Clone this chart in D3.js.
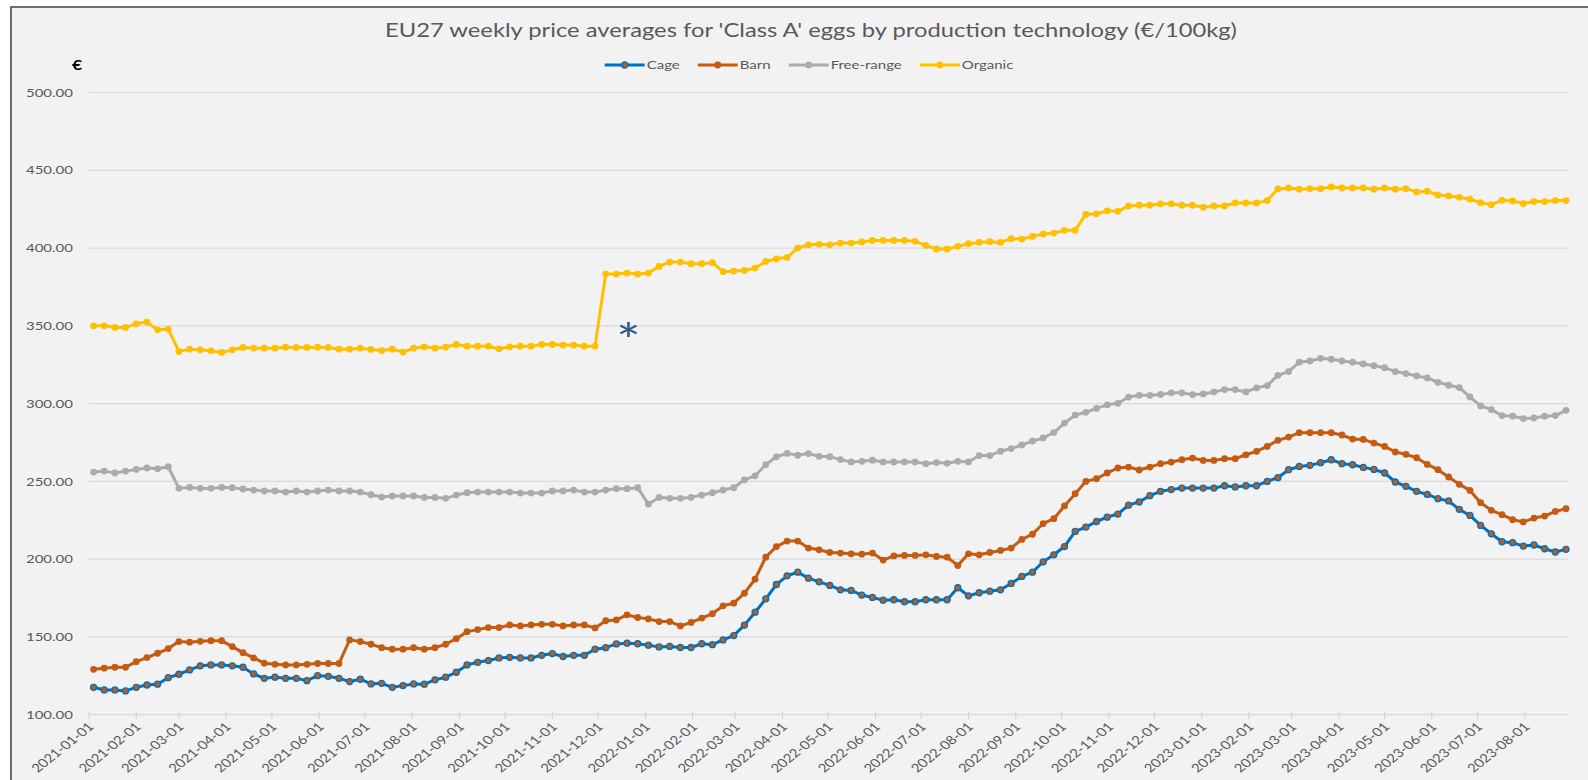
<!DOCTYPE html>
<html>
<head>
<meta charset="utf-8">
<script src="https://d3js.org/d3.v7.min.js"></script>
<style>
  html, body { margin: 0; background: #fff; overflow: hidden; }
  svg { display: block; }
  text { font-family: Lato, "Open Sans", sans-serif; }
</style>
</head>
<body>
<div id="chart"></div>
<script>
// ---- Data ----
const firstWeek = "2021-01-04";
const lastWeek = "2023-08-28";

const seriesNames = ["Cage", "Barn", "Free-range", "Organic"];

const cage = [
  117.6, 115.9, 115.9, 115.3, 117.6, 119.1, 119.6, 123.8, 126.0, 128.8,
  131.4, 132.0, 132.0, 131.4, 130.5, 126.2, 123.4, 124.1, 123.4, 123.4,
  121.9, 125.1, 124.7, 123.4, 121.3, 122.8, 119.8, 120.2, 117.6, 118.7,
  119.8, 119.6, 122.4, 124.1, 127.3, 132.0, 133.7, 134.8, 136.5, 136.9,
  136.5, 136.5, 138.2, 139.3, 137.4, 138.2, 138.2, 142.1, 143.1, 145.5,
  146.0, 145.6, 144.7, 143.6, 143.9, 143.2, 143.2, 145.6, 145.0, 148.1,
  150.9, 157.6, 165.9, 174.5, 183.7, 189.3, 191.6, 187.8, 185.4, 183.1,
  180.3, 179.9, 176.9, 175.4, 173.6, 173.9, 172.6, 172.6, 173.9, 173.9,
  173.9, 181.6, 176.4, 178.4, 179.4, 180.3, 184.4, 188.9, 191.6, 198.3,
  202.8, 208.1, 217.8, 220.6, 224.2, 227.0, 229.0, 234.7, 236.8, 240.8,
  243.6, 244.7, 245.7, 245.7, 245.7, 245.7, 247.2, 246.4, 247.2, 247.2,
  250.0, 252.4, 257.5, 259.6, 260.3, 262.0, 263.9, 261.4, 260.7, 259.0,
  257.7, 255.4, 249.6, 246.8, 243.6, 241.6, 238.9, 237.4, 232.0, 228.1,
  221.7, 216.3, 211.2, 210.6, 208.4, 209.1, 206.7, 204.6, 206.3
];

const barn = [
  129.2, 129.9, 130.5, 130.5, 134.1, 136.7, 139.5, 142.5, 147.0, 146.6,
  147.2, 147.6, 147.6, 143.8, 139.9, 136.5, 133.1, 132.4, 132.0, 132.0,
  132.4, 132.9, 132.9, 132.9, 148.1, 147.0, 145.3, 143.1, 142.1, 142.1,
  143.1, 142.1, 143.1, 145.3, 148.9, 153.4, 154.7, 156.0, 156.0, 157.7,
  157.1, 157.7, 158.1, 158.1, 157.1, 157.7, 157.7, 155.8, 160.4, 160.9,
  164.2, 162.5, 161.6, 159.9, 159.9, 157.1, 159.3, 162.1, 164.9, 170.0,
  171.7, 178.1, 187.1, 201.3, 208.1, 211.6, 211.6, 207.1, 206.0, 204.3,
  203.9, 203.4, 203.2, 203.9, 199.4, 202.1, 202.4, 202.4, 202.8, 201.7,
  201.3, 195.9, 203.4, 202.8, 204.3, 205.6, 207.1, 212.7, 216.0, 222.9,
  226.0, 234.2, 242.1, 250.0, 251.7, 255.4, 258.6, 259.2, 257.3, 259.2,
  261.4, 262.4, 263.9, 265.0, 263.5, 263.5, 264.6, 264.6, 267.1, 269.3,
  272.5, 276.4, 278.5, 281.3, 281.3, 281.3, 281.3, 279.8, 277.2, 277.0,
  274.6, 272.5, 268.9, 267.4, 265.2, 260.9, 257.5, 252.8, 248.1, 244.2,
  236.3, 231.4, 228.6, 225.4, 223.9, 226.4, 227.7, 230.7, 232.4
];

const freeRange = [
  256.0, 256.6, 255.4, 256.6, 257.7, 258.6, 258.1, 259.4, 245.5, 246.1,
  245.5, 245.5, 246.1, 245.9, 245.1, 244.4, 243.8, 243.8, 243.1, 243.8,
  243.1, 243.8, 244.4, 243.8, 243.8, 243.1, 241.4, 239.9, 240.6, 240.6,
  240.6, 239.7, 239.7, 239.1, 241.2, 242.7, 243.1, 243.1, 243.1, 243.1,
  242.5, 242.5, 242.5, 243.8, 243.8, 244.4, 243.1, 243.1, 244.4, 245.3,
  245.3, 245.9, 235.4, 239.7, 239.1, 239.1, 239.7, 241.2, 242.7, 244.4,
  245.9, 251.0, 253.6, 260.7, 265.8, 268.0, 266.8, 267.9, 266.1, 265.9,
  264.0, 262.5, 262.9, 263.6, 262.5, 262.5, 262.5, 262.5, 261.4, 262.1,
  261.6, 262.9, 262.5, 266.6, 266.6, 269.4, 271.1, 273.4, 275.9, 277.9,
  281.4, 287.5, 292.6, 294.4, 296.9, 299.2, 300.2, 304.2, 305.3, 305.3,
  305.9, 306.9, 306.9, 305.8, 306.2, 307.5, 309.0, 309.0, 307.5, 310.1,
  311.6, 318.2, 320.6, 326.6, 327.4, 329.1, 328.5, 327.4, 326.6, 325.5,
  324.4, 323.1, 320.6, 319.3, 317.8, 316.5, 313.7, 311.8, 310.3, 304.3,
  298.5, 296.1, 292.3, 291.9, 290.4, 290.8, 291.9, 292.3, 295.7
];

const organic = [
  350.0, 350.0, 349.0, 349.0, 351.3, 352.4, 347.4, 347.9, 333.5, 335.0,
  334.6, 333.9, 332.9, 334.6, 336.1, 335.6, 335.6, 335.6, 336.3, 336.1,
  336.1, 336.3, 336.1, 335.0, 335.0, 335.6, 334.8, 334.1, 335.0, 333.1,
  335.6, 336.5, 335.6, 336.3, 338.0, 336.9, 336.9, 336.9, 335.2, 336.5,
  336.9, 336.9, 338.0, 338.0, 337.6, 337.6, 336.9, 336.9, 383.3, 383.3,
  383.9, 383.3, 383.9, 388.2, 391.0, 391.0, 389.9, 389.9, 390.6, 384.8,
  385.2, 385.6, 387.1, 391.4, 393.1, 394.0, 400.0, 402.1, 402.4, 402.1,
  403.2, 403.2, 403.9, 404.9, 404.9, 404.9, 404.9, 404.3, 401.7, 399.4,
  399.4, 401.1, 402.8, 403.6, 404.1, 403.6, 406.0, 405.8, 407.5, 409.0,
  409.6, 411.4, 411.4, 421.6, 422.0, 423.9, 423.6, 427.1, 427.5, 427.5,
  428.4, 428.4, 427.5, 427.5, 426.2, 427.1, 427.1, 429.0, 429.0, 429.0,
  430.5, 438.0, 438.6, 437.8, 438.2, 438.2, 439.3, 438.6, 438.6, 438.6,
  437.8, 438.6, 437.8, 438.2, 436.1, 436.5, 434.1, 433.5, 432.6, 431.4,
  429.2, 427.9, 430.7, 430.3, 428.6, 429.9, 429.9, 430.5, 430.5
];

const yTicks = [100, 150, 200, 250, 300, 350, 400, 450, 500];

const xTickLabels = [
  "2021-01-01", "2021-02-01", "2021-03-01", "2021-04-01", "2021-05-01", "2021-06-01",
  "2021-07-01", "2021-08-01", "2021-09-01", "2021-10-01", "2021-11-01", "2021-12-01",
  "2022-01-01", "2022-02-01", "2022-03-01", "2022-04-01", "2022-05-01", "2022-06-01",
  "2022-07-01", "2022-08-01", "2022-09-01", "2022-10-01", "2022-11-01", "2022-12-01",
  "2023-01-01", "2023-02-01", "2023-03-01", "2023-04-01", "2023-05-01", "2023-06-01",
  "2023-07-01", "2023-08-01"
];

const titleText = "EU27 weekly price averages for 'Class A' eggs by production technology (€/100kg)";
const noteText = "*";
const noteDate = "2021-12-21";
const noteValue = 350;

// ---- Style ----
const width = 1588;
const height = 780;
const stretch = 1.25;          // text in the reference is a little wide
const textGray = "#595959";
const gridColor = "#d9d9d9";
const lineColors = ["#0070c0", "#c55a11", "#aeaaaa", "#ffc000"];
const markerFills = ["#c55a11", "#c55a11", "#aeaaaa", "#ffc000"];

const svg = d3.select("#chart")
  .append("svg")
    .attr("width", width)
    .attr("height", height);

// chart area background + border (right and bottom edges fall outside the frame)
svg.append("rect")
  .attr("x", 11)
  .attr("y", 7)
  .attr("width", 1620)
  .attr("height", 820)
  .attr("fill", "#f2f2f2")
  .attr("stroke", "#404040")
  .attr("stroke-width", 1.5);

const parse = d3.utcParse("%Y-%m-%d");
const weeks = d3.utcMonday.range(parse(firstWeek), d3.utcDay.offset(parse(lastWeek), 1));
const series = [cage, barn, freeRange, organic].map((vals, k) => ({
  name: seriesNames[k],
  values: vals.map((v, i) => ({ date: weeks[i], value: v }))
}));

// Scales
const x = d3.scaleUtc()
  .domain([parse("2021-01-01"), parse(lastWeek)])
  .range([89, 1566]);

const y = d3.scaleLinear()
  .domain([100, 500])
  .range([714.7, 92.5]);

// Gridlines
svg.append("g")
  .selectAll("line")
  .data(yTicks)
  .enter().append("line")
    .attr("x1", 89)
    .attr("x2", 1568)
    .attr("y1", d => y(d))
    .attr("y2", d => y(d))
    .attr("stroke", gridColor)
    .attr("stroke-width", 1.2);

// Y labels
svg.append("g")
  .selectAll("text")
  .data(yTicks)
  .enter().append("text")
    .attr("transform", d => `translate(73, ${y(d)}) scale(${stretch}, 1)`)
    .attr("dy", "0.35em")
    .attr("text-anchor", "end")
    .attr("font-size", 12)
    .attr("fill", textGray)
    .text(d3.format(".2f"));

// X ticks and rotated labels
let xAxis = svg.append("g")
  .selectAll("g")
  .data(xTickLabels)
  .enter().append("g")
    .attr("transform", d => `translate(${x(parse(d))}, ${y(100)})`);

xAxis.append("line")
  .attr("y1", -3)
  .attr("y2", 4)
  .attr("stroke", "#cfcfcf")
  .attr("stroke-width", 1);

xAxis.append("text")
  .attr("transform", `translate(2, 10) scale(${stretch}, 1) rotate(-45)`)
  .attr("dy", "0.35em")
  .attr("text-anchor", "end")
  .attr("font-size", 12)
  .attr("fill", textGray)
  .text(d => d);

// Lines
const line = d3.line()
  .x(d => x(d.date))
  .y(d => y(d.value));

let seriesG = svg.append("g")
  .selectAll("g")
  .data(series)
  .enter().append("g");

seriesG.append("path")
  .attr("d", d => line(d.values))
  .attr("fill", "none")
  .attr("stroke", (d, i) => lineColors[i])
  .attr("stroke-width", 3)
  .attr("stroke-linejoin", "round");

seriesG.each(function(s, k) {
  d3.select(this).selectAll("circle")
    .data(s.values)
    .enter().append("circle")
      .attr("cx", d => x(d.date))
      .attr("cy", d => y(d.value))
      .attr("r", k === 0 ? 3 : 3.4)
      .attr("fill", markerFills[k])
      .attr("stroke", k === 0 ? lineColors[0] : "none")
      .attr("stroke-width", 1.3);
});

// Title
svg.append("text")
  .attr("transform", `translate(811, 37) scale(${stretch}, 1)`)
  .attr("text-anchor", "middle")
  .attr("font-size", 19)
  .attr("fill", textGray)
  .text(titleText);

// Euro unit
svg.append("text")
  .attr("transform", `translate(77, 65) scale(${stretch}, 1)`)
  .attr("dy", "0.35em")
  .attr("text-anchor", "middle")
  .attr("font-size", 14)
  .attr("font-weight", "bold")
  .attr("fill", "#000")
  .text("€");

// Legend
let legend = svg.append("g");
let items = legend.selectAll("g")
  .data(series)
  .enter().append("g");

items.append("line")
  .attr("x1", 0).attr("x2", 40)
  .attr("stroke", (d, i) => lineColors[i])
  .attr("stroke-width", 3);

items.append("circle")
  .attr("cx", 20)
  .attr("r", (d, i) => i === 0 ? 3 : 3.4)
  .attr("fill", (d, i) => markerFills[i])
  .attr("stroke", (d, i) => i === 0 ? lineColors[0] : "none")
  .attr("stroke-width", 1.3);

items.append("text")
  .attr("transform", `translate(42, 0) scale(${stretch}, 1)`)
  .attr("dy", "0.35em")
  .attr("font-size", 12)
  .attr("fill", textGray)
  .text(d => d.name);

let offset = 0;
let widths = [];
items.each(function() {
  let w = 42 + this.querySelector("text").getComputedTextLength() * stretch;
  widths.push(w);
});
let total = d3.sum(widths) + 18 * (widths.length - 1);
let start = 809 - total / 2;
items.attr("transform", (d, i) => {
  let t = `translate(${start + offset}, 65)`;
  offset += widths[i] + 18;
  return t;
});

// Asterisk note (glyph sits ~0.23em above its box centre, so push it down)
const noteSize = 46;
let note = svg.append("text")
  .attr("font-size", noteSize)
  .attr("fill", "#2a5a8c")
  .text(noteText);
let bb = note.node().getBBox();
note.attr("transform", `translate(${x(parse(noteDate))}, ${y(noteValue) + 3 + 0.23 * noteSize}) scale(${stretch}, 1) translate(${-bb.width / 2}, ${-(bb.y + bb.height / 2)})`);
</script>
</body>
</html>
